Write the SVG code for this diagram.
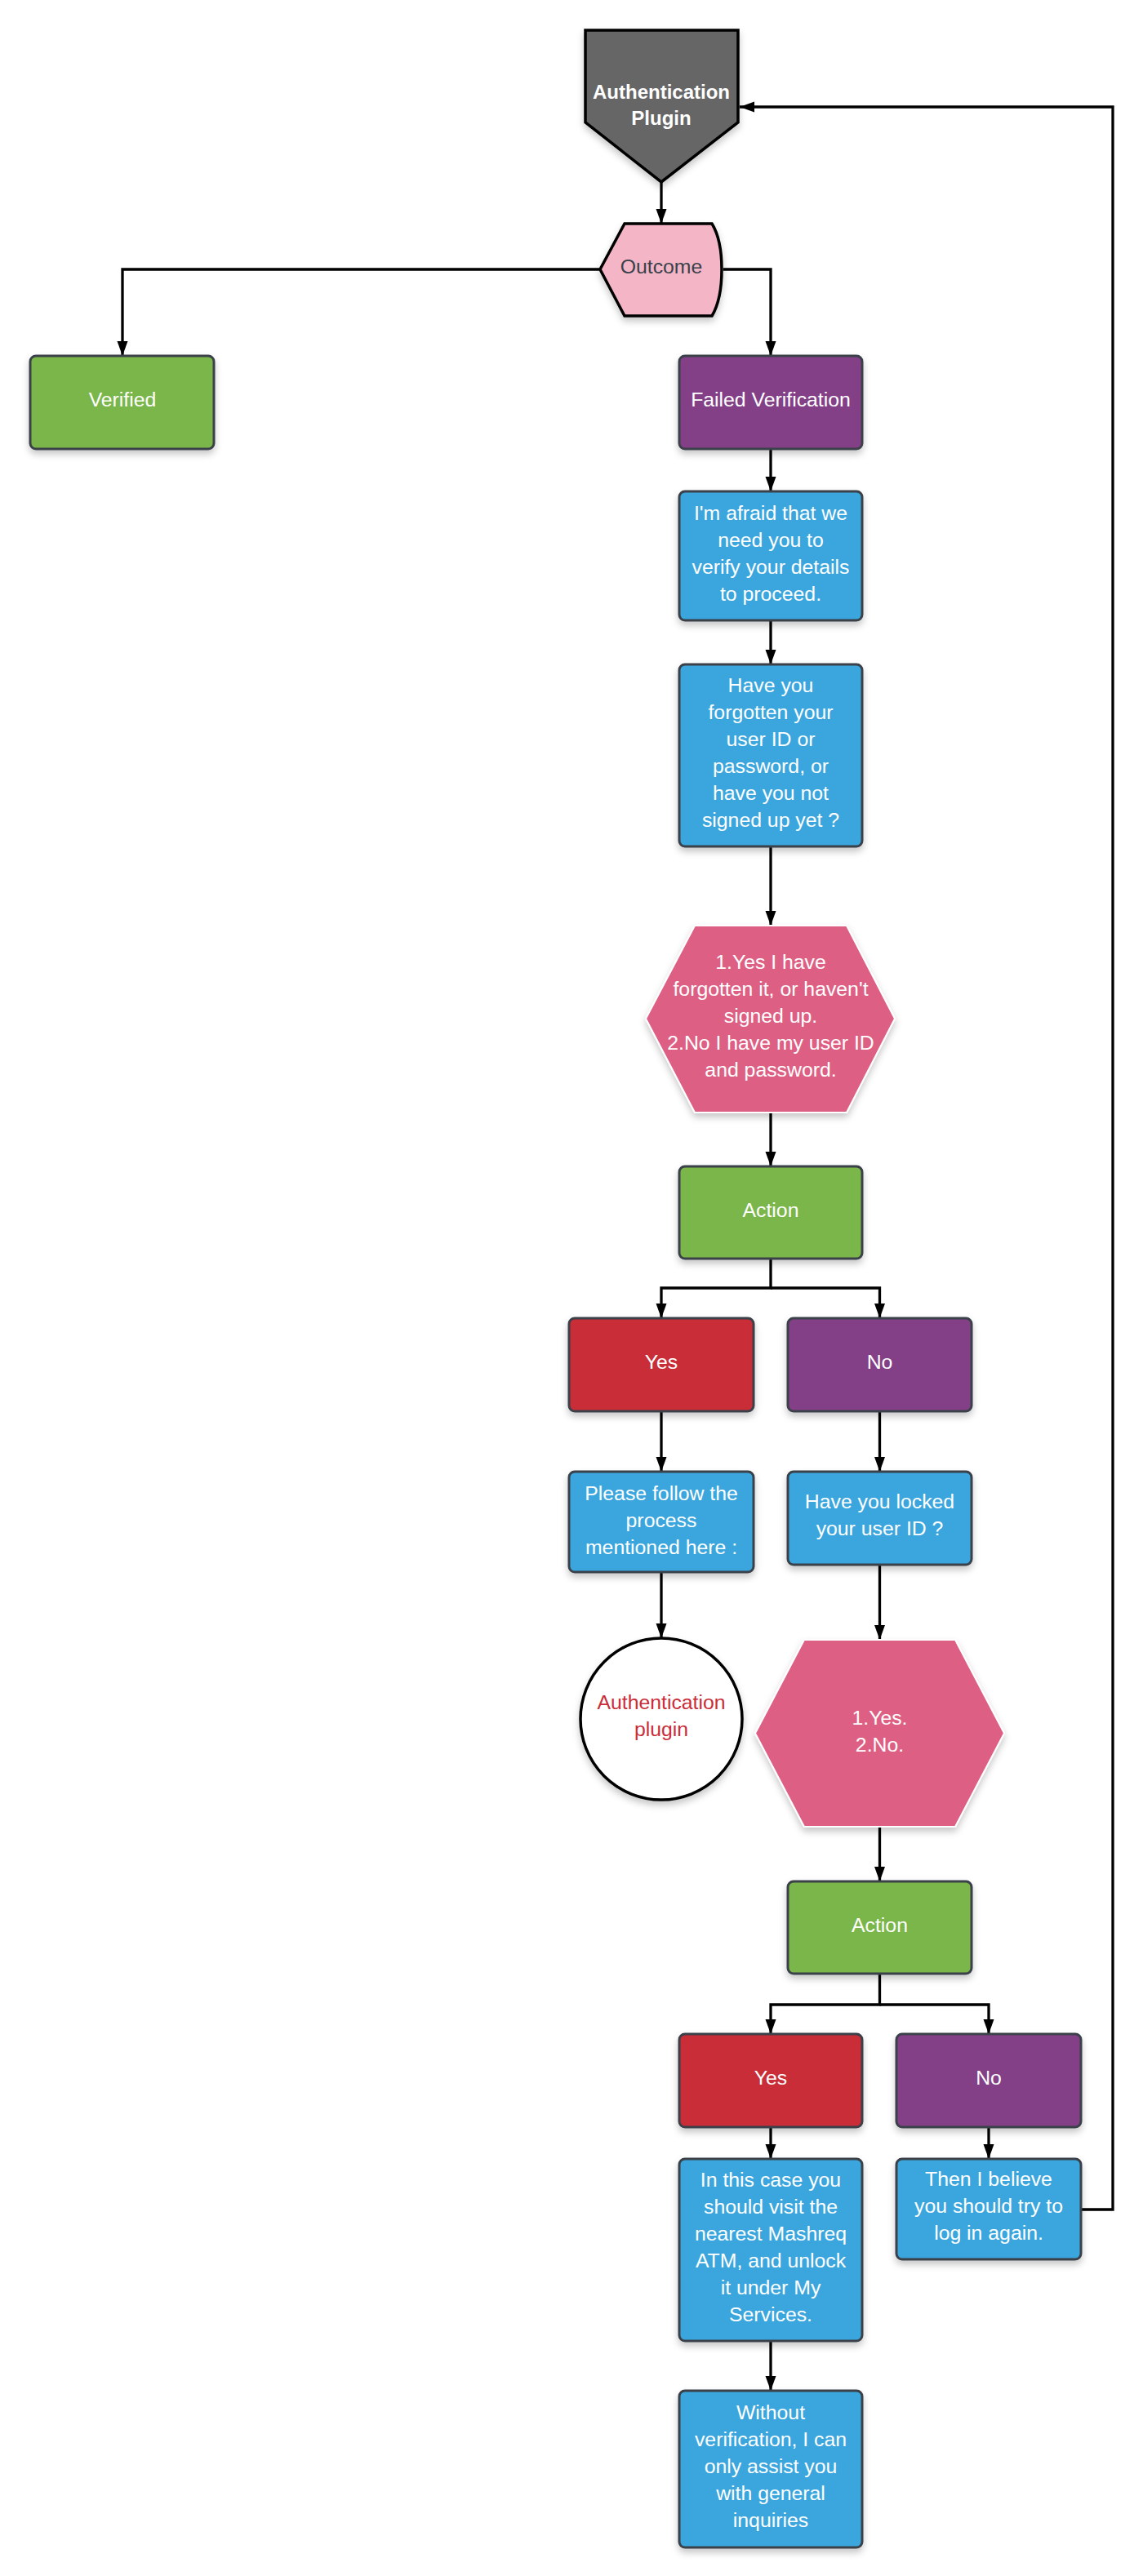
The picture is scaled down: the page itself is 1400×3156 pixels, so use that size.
<svg xmlns="http://www.w3.org/2000/svg" width="1400" height="3156" viewBox="0 0 1400 3156">
<defs>
<marker id="arr" markerUnits="userSpaceOnUse" markerWidth="20" markerHeight="14" refX="18" refY="6.5" orient="auto">
<path d="M0,0 L18,6.5 L0,13 Z" fill="#000"/>
</marker>
<filter id="sh" x="-20%" y="-20%" width="140%" height="150%">
<feDropShadow dx="0" dy="5" stdDeviation="4" flood-color="#000" flood-opacity="0.22"/>
</filter>
</defs>
<style>
.box{stroke:#3a414a;stroke-width:3;filter:url(#sh)}
.blue{fill:#3aa6dd}.green{fill:#7ab648}.purple{fill:#834187}.red{fill:#c92d39}
.hex{fill:#de5e84;stroke:#fff;stroke-width:2;filter:url(#sh)}
text{font-family:"Liberation Sans",Arial,sans-serif;font-size:24.8px;fill:#fff;text-anchor:middle}
.bold{font-weight:bold;font-size:24px}
.dark{fill:#3a414a}
.redt{fill:#c92d39}
.conn path{fill:none;stroke:#000;stroke-width:3.3}
</style>
<rect width="1400" height="3156" fill="#fff"/>
<g class="conn">
<path d="M810,223 L810,274" marker-end="url(#arr)"/>
<path d="M735,330 L150,330 L150,436" marker-end="url(#arr)"/>
<path d="M886,330 L944,330 L944,436" marker-end="url(#arr)"/>
<path d="M944,550 L944,602" marker-end="url(#arr)"/>
<path d="M944,760 L944,814" marker-end="url(#arr)"/>
<path d="M944,1037 L944,1134" marker-end="url(#arr)"/>
<path d="M944,1363 L944,1429" marker-end="url(#arr)"/>
<path d="M944,1542 L944,1578 L810,1578 L810,1615" marker-end="url(#arr)"/>
<path d="M944,1578 L1077.5,1578 L1077.5,1615" marker-end="url(#arr)"/>
<path d="M810,1729 L810,1803" marker-end="url(#arr)"/>
<path d="M1077.5,1729 L1077.5,1803" marker-end="url(#arr)"/>
<path d="M810,1926 L810,2007" marker-end="url(#arr)"/>
<path d="M1077.5,1917 L1077.5,2009" marker-end="url(#arr)"/>
<path d="M1077.5,2238 L1077.5,2305" marker-end="url(#arr)"/>
<path d="M1077.5,2418 L1077.5,2456 L944,2456 L944,2492" marker-end="url(#arr)"/>
<path d="M1077.5,2456 L1211,2456 L1211,2492" marker-end="url(#arr)"/>
<path d="M944,2606 L944,2645" marker-end="url(#arr)"/>
<path d="M1211,2606 L1211,2645" marker-end="url(#arr)"/>
<path d="M944,2868 L944,2929" marker-end="url(#arr)"/>
<path d="M1324,2707 L1363,2707 L1363,131 L906,131" marker-end="url(#arr)"/>
</g>
<g id="auth-plugin">
<path d="M717,37 L904,37 L904,150 L810,223 L717,150 Z" fill="#666" stroke="#000" stroke-width="3.5" filter="url(#sh)"/>
<text class="bold" x="810" y="121">Authentication</text>
<text class="bold" x="810" y="153">Plugin</text>
</g>
<g id="outcome">
<path d="M765,274 L872,274 C888,300 888,360 872,387 L765,387 L735,330 Z" fill="#f4b5c7" stroke="#000" stroke-width="3.5" filter="url(#sh)"/>
<text class="dark" x="810" y="335">Outcome</text>
</g>
<g id="verified">
<rect class="box green" x="37" y="436" width="225" height="114" rx="7"/>
<text x="150" y="498">Verified</text>
</g>
<g id="failed">
<rect class="box purple" x="832" y="436" width="224" height="114" rx="7"/>
<text x="944" y="498">Failed Verification</text>
</g>
<g id="afraid">
<rect class="box blue" x="832" y="602" width="224" height="158" rx="7"/>
<text x="944" y="637">I'm afraid that we</text>
<text x="944" y="670">need you to</text>
<text x="944" y="703">verify your details</text>
<text x="944" y="736">to proceed.</text>
</g>
<g id="forgotten">
<rect class="box blue" x="832" y="814" width="224" height="223" rx="7"/>
<text x="944" y="848">Have you</text>
<text x="944" y="881">forgotten your</text>
<text x="944" y="914">user ID or</text>
<text x="944" y="947">password, or</text>
<text x="944" y="980">have you not</text>
<text x="944" y="1013">signed up yet ?</text>
</g>
<g id="options1">
<path class="hex" d="M851,1134 L1037,1134 L1096,1248 L1037,1363 L851,1363 L791,1248 Z"/>
<text x="944" y="1187">1.Yes I have</text>
<text x="944" y="1220">forgotten it, or haven't</text>
<text x="944" y="1253">signed up.</text>
<text x="944" y="1286">2.No I have my user ID</text>
<text x="944" y="1319">and password.</text>
</g>
<g id="action1">
<rect class="box green" x="832" y="1429" width="224" height="113" rx="7"/>
<text x="944" y="1491">Action</text>
</g>
<g id="yes1">
<rect class="box red" x="697" y="1615" width="226" height="114" rx="7"/>
<text x="810" y="1677">Yes</text>
</g>
<g id="no1">
<rect class="box purple" x="965" y="1615" width="225" height="114" rx="7"/>
<text x="1077.5" y="1677">No</text>
</g>
<g id="follow">
<rect class="box blue" x="697" y="1803" width="226" height="123" rx="7"/>
<text x="810" y="1838">Please follow the</text>
<text x="810" y="1871">process</text>
<text x="810" y="1904">mentioned here :</text>
</g>
<g id="locked">
<rect class="box blue" x="965" y="1803" width="225" height="114" rx="7"/>
<text x="1077.5" y="1848">Have you locked</text>
<text x="1077.5" y="1881">your user ID ?</text>
</g>
<g id="auth-circle">
<circle cx="810" cy="2106" r="99" fill="#fff" stroke="#000" stroke-width="3.5" filter="url(#sh)"/>
<text class="redt" x="810" y="2094">Authentication</text>
<text class="redt" x="810" y="2127">plugin</text>
</g>
<g id="options2">
<path class="hex" d="M985,2009 L1170,2009 L1230,2123.5 L1170,2238 L985,2238 L925,2123.5 Z"/>
<text x="1077.5" y="2113">1.Yes.</text>
<text x="1077.5" y="2146">2.No.</text>
</g>
<g id="action2">
<rect class="box green" x="965" y="2305" width="225" height="113" rx="7"/>
<text x="1077.5" y="2367">Action</text>
</g>
<g id="yes2">
<rect class="box red" x="832" y="2492" width="224" height="114" rx="7"/>
<text x="944" y="2554">Yes</text>
</g>
<g id="no2">
<rect class="box purple" x="1098" y="2492" width="226" height="114" rx="7"/>
<text x="1211" y="2554">No</text>
</g>
<g id="atm">
<rect class="box blue" x="832" y="2645" width="224" height="223" rx="7"/>
<text x="944" y="2679">In this case you</text>
<text x="944" y="2712">should visit the</text>
<text x="944" y="2745">nearest Mashreq</text>
<text x="944" y="2778">ATM, and unlock</text>
<text x="944" y="2811">it under My</text>
<text x="944" y="2844">Services.</text>
</g>
<g id="retry">
<rect class="box blue" x="1098" y="2645" width="226" height="123" rx="7"/>
<text x="1211" y="2678">Then I believe</text>
<text x="1211" y="2711">you should try to</text>
<text x="1211" y="2744">log in again.</text>
</g>
<g id="without">
<rect class="box blue" x="832" y="2929" width="224" height="192" rx="7"/>
<text x="944" y="2964">Without</text>
<text x="944" y="2997">verification, I can</text>
<text x="944" y="3030">only assist you</text>
<text x="944" y="3063">with general</text>
<text x="944" y="3096">inquiries</text>
</g>
</svg>
